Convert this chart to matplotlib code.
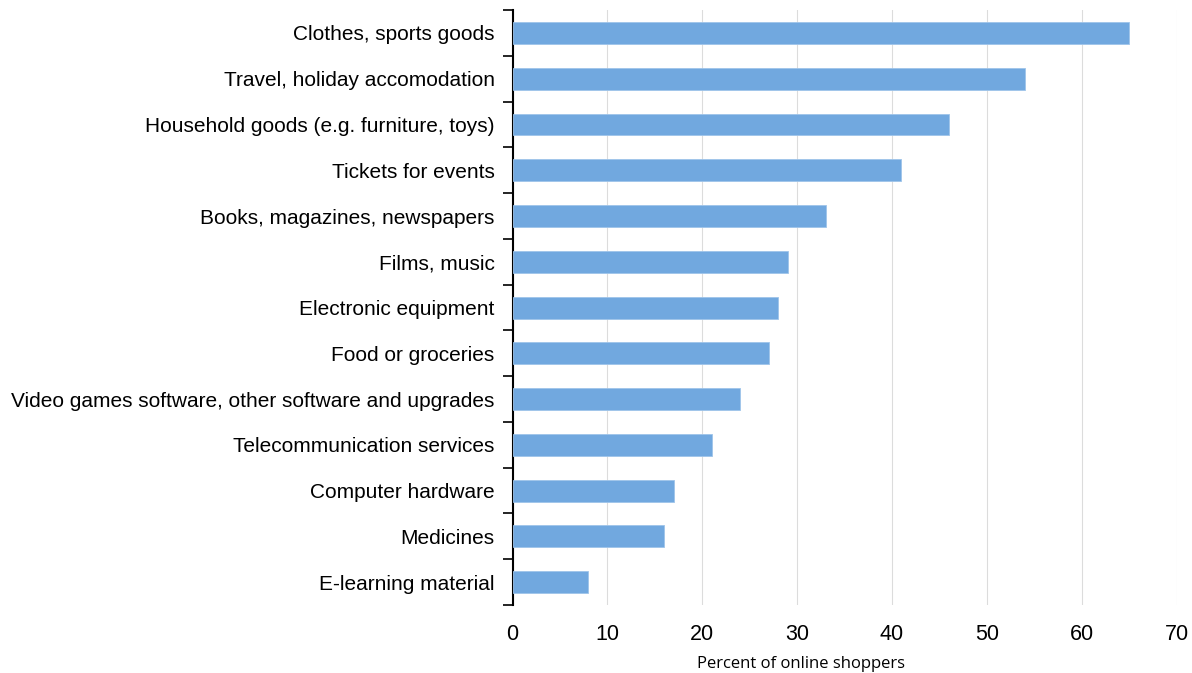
import matplotlib
matplotlib.use("Agg")
import matplotlib.pyplot as plt
import numpy as np

categories = [
    "Clothes, sports goods",
    "Travel, holiday accomodation",
    "Household goods (e.g. furniture, toys)",
    "Tickets for events",
    "Books, magazines, newspapers",
    "Films, music",
    "Electronic equipment",
    "Food or groceries",
    "Video games software, other software and upgrades",
    "Telecommunication services",
    "Computer hardware",
    "Medicines",
    "E-learning material",
]
values = [65, 54, 46, 41, 33, 29, 28, 27, 24, 21, 17, 16, 8]
xticks = [0, 10, 20, 30, 40, 50, 60, 70]

fig = plt.figure(figsize=(11.92, 6.73), dpi=100)
ax = fig.add_axes([0.430, 0.101, 0.557, 0.884])

y = np.arange(len(categories))
ax.barh(y, values, height=0.48, color="#71a8df", edgecolor="#9fc4ea", linewidth=0.6, zorder=3)

ax.set_ylim(len(categories) - 0.5, -0.5)
ax.set_xlim(0, 70)

# category labels without ticks, tick marks at boundaries
ax.set_yticks(y)
ax.set_yticklabels(categories, fontsize=15, family="Liberation Sans")
ax.tick_params(axis="y", which="major", length=0, pad=13)
ax.set_yticks(np.arange(-0.5, len(categories), 1), minor=True)
ax.tick_params(axis="y", which="minor", length=7, width=1.2, color="black")

ax.set_xticks(xticks)
ax.set_xticklabels([str(t) for t in xticks], fontsize=15.5, family="Liberation Sans")
ax.tick_params(axis="x", length=0, pad=14)
ax.grid(axis="x", color="#dcdcdc", linewidth=0.8, zorder=0)

for side in ["top", "right", "bottom"]:
    ax.spines[side].set_visible(False)
ax.spines["left"].set_linewidth(1.5)

ax.set_xlabel("Percent of online shoppers", fontsize=12, family="Open Sans")
ax.xaxis.set_label_coords(0.434, -0.085)

fig.savefig("out.png", dpi=100)
